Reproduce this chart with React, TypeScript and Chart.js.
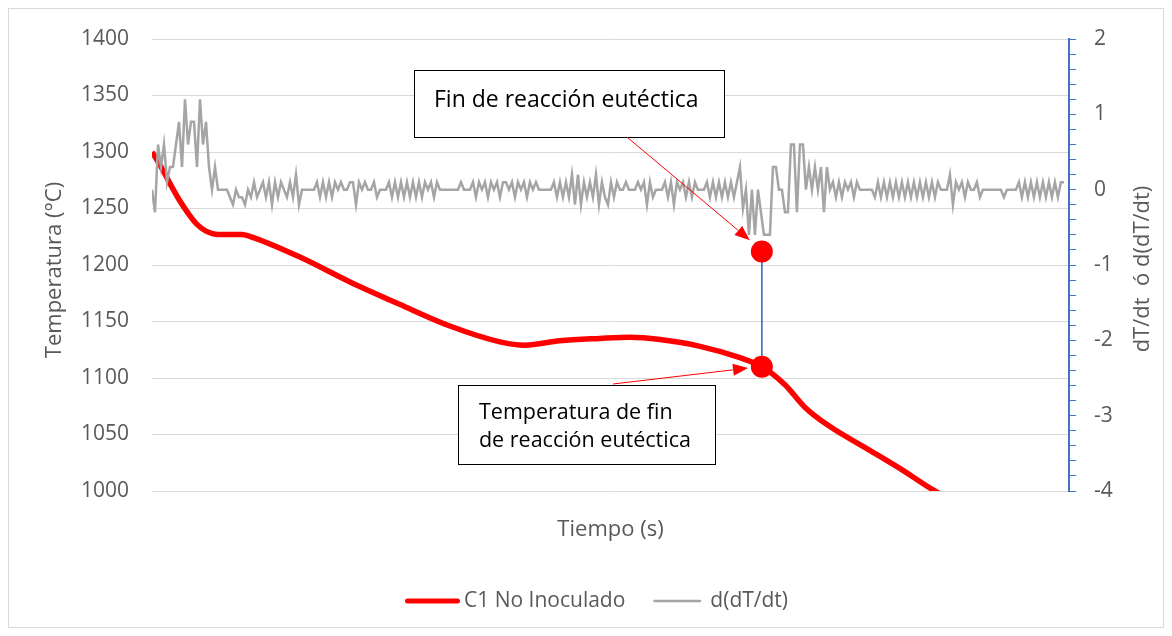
import { useEffect, useRef } from 'react';
import { Chart, registerables } from 'chart.js';

Chart.register(...registerables);

const W = 1156;
const H = 620;
const FONT = '"Open Sans", sans-serif';
const AXIS_TEXT = '#595959';
const RED = '#FF0000';
const GRAY = '#A5A5A5';
const BLUE = '#4472C4';

const seriesNames = ['C1 No Inoculado', 'd(dT/dt)'];

// Temperature curve (time in s, temperature in °C)
const redTime = [0, 3, 6, 9, 12, 15, 18, 22, 30, 34, 49.3, 66, 82.7, 99.3, 116, 124.3, 136, 149.3, 159.3, 169.3, 182.7, 196, 203.3, 211, 217.7, 226, 239.3, 249.3, 261, 270];
const redTemp = [1300, 1287, 1272, 1258, 1246, 1236, 1230, 1227, 1227, 1224, 1207, 1185, 1165, 1146, 1132, 1129, 1133, 1135, 1136, 1134, 1128, 1118, 1110, 1094, 1074, 1057, 1036, 1020, 1000, 988];

// d(dT/dt), one sample per second
const derivValues = [
  0, -0.3, 0.6, 0.3, 0.6, 0.1, 0.3, 0.3, 0.6, 0.9,
  0.3, 1.2, 0.6, 0.9, 0.9, 0.3, 1.2, 0.6, 0.9, 0.3,
  0, 0.3, 0, 0, 0, 0, -0.1, -0.2, 0, -0.1,
  -0.1, -0.2, 0, -0.1, 0.1, -0.1, 0, 0.1, -0.1, 0.1,
  -0.2, 0.1, -0.1, 0.1, 0, -0.1, 0.1, -0.1, 0.2, -0.2,
  0, 0, 0, 0, 0, 0.1, -0.1, 0.1, -0.1, 0.1,
  -0.1, 0.1, 0, 0.1, 0, 0, 0.1, 0.1, -0.2, 0.1,
  0, 0.1, 0, 0, 0.1, -0.1, 0, 0, 0, 0.1,
  -0.1, 0.1, -0.1, 0.1, -0.1, 0.1, -0.1, 0.1, -0.1, 0.1,
  -0.1, 0.1, 0, 0.1, -0.1, 0.1, 0, 0, 0, 0,
  0, 0, 0, 0.1, 0, 0, 0, 0.1, -0.1, 0.1,
  0, 0.1, -0.1, 0.1, 0, 0.1, -0.1, 0.1, 0.1, 0,
  0.1, -0.1, 0.1, 0, 0.1, -0.1, 0.1, 0, 0.1, 0,
  0, 0, 0, 0, 0.1, -0.1, 0.1, -0.1, 0.1, -0.1,
  0.2, -0.2, 0.2, -0.2, 0.1, -0.1, 0.1, -0.1, 0.2, -0.2,
  0.1, -0.1, -0.2, 0.1, -0.1, 0.1, 0, 0, 0.1, 0,
  0, 0, 0.1, 0, 0.1, -0.2, 0.1, -0.1, 0, 0,
  0, 0.1, -0.1, 0.1, -0.2, 0.1, 0, 0.1, -0.1, 0.1,
  -0.1, 0.1, 0, 0, 0, 0.1, -0.1, 0.1, -0.1, 0.1,
  -0.1, 0.1, -0.1, 0.1, -0.1, 0.1, 0.3, -0.25, 0, -0.6,
  0, -0.6, 0, -0.3, -0.6, -0.6, -0.6, 0.3, 0.3, 0,
  0, -0.3, -0.3, 0.6, 0.6, -0.3, 0.6, 0.6, 0, 0.3,
  0, 0.3, 0, 0.3, -0.3, 0.3, 0, 0.1, -0.1, 0.1,
  -0.1, 0.1, 0, 0.1, -0.1, 0.1, 0, 0, 0, 0,
  0, -0.1, 0.1, -0.1, 0.1, -0.1, 0.1, -0.1, 0.1, -0.1,
  0.1, -0.1, 0.1, -0.1, 0.1, -0.1, 0.1, -0.1, 0.1, -0.1,
  0.1, -0.1, 0.1, 0, 0, 0, 0.2, -0.2, 0.1, 0,
  0.1, -0.1, 0.1, 0, 0, 0.1, -0.1, 0, 0, 0,
  0, 0, 0, 0, -0.1, 0, 0, 0, 0, 0.1,
  -0.1, 0.1, -0.1, 0.1, -0.1, 0.1, -0.1, 0.1, -0.1, 0.1,
  -0.1, 0.1, -0.1, 0.1, 0.1,
];

// End of eutectic reaction markers
const eventTime = [203.3, 203.3];
const eventTemp = [1212, 1110];

const tempAxis = { min: 1000, max: 1400, step: 50 };
const derivAxis = { min: -4, max: 2, step: 0.2 };
const timeAxis = { min: 0, max: 305.7 };

const titles = { x: 'Tiempo (s)', y: 'Temperatura (°C)', y2: 'dT/dt  ó d(dT/dt)' };

// Callouts in data units (time, temperature)
const notes = [
  { lines: ['Fin de reacción eutéctica'], size: 23, box: [87.3, 1372.6, 190.7, 1313.3], textX: 94, textY: [1346], arrow: [158.3, 1313.3, 199.3, 1222] },
  { lines: ['Temperatura de fin', 'de reacción eutéctica'], size: 21.5, box: [102, 1093.8, 187.7, 1023.9], textX: 109, textY: [1069, 1044], arrow: [153.7, 1094.7, 198.7, 1108.8] },
];

function drawArrow(ctx: CanvasRenderingContext2D, x1: number, y1: number, x2: number, y2: number) {
  const a = Math.atan2(y2 - y1, x2 - x1);
  const L = 15;
  const hw = 6;
  const bx = x2 - L * Math.cos(a);
  const by = y2 - L * Math.sin(a);
  ctx.beginPath();
  ctx.moveTo(x1, y1);
  ctx.lineTo(bx, by);
  ctx.stroke();
  ctx.beginPath();
  ctx.moveTo(x2, y2);
  ctx.lineTo(bx + hw * Math.sin(a), by - hw * Math.cos(a));
  ctx.lineTo(bx - hw * Math.sin(a), by + hw * Math.cos(a));
  ctx.closePath();
  ctx.fill();
}

const decorPlugin = {
  id: 'decor',
  beforeDraw(chart: any) {
    const { ctx, width, height } = chart;
    ctx.save();
    ctx.fillStyle = '#FFFFFF';
    ctx.fillRect(0, 0, width, height);
    ctx.strokeStyle = '#D9D9D9';
    ctx.lineWidth = 1;
    ctx.strokeRect(0.5, 0.5, width - 1, height - 1);
    ctx.restore();
  },
  afterDraw(chart: any) {
    const { ctx, chartArea: ca, scales } = chart;
    const xs = scales.x;
    const ys = scales.y;
    const cx = (ca.left + ca.right) / 2;
    const cy = (ca.top + ca.bottom) / 2;
    ctx.save();
    ctx.font = `22px ${FONT}`;
    ctx.fillStyle = AXIS_TEXT;
    ctx.textAlign = 'center';
    ctx.textBaseline = 'middle';
    ctx.fillText(titles.x, cx, ca.bottom + 39);
    ctx.save();
    ctx.translate(47, cy + 5);
    ctx.rotate(-Math.PI / 2);
    ctx.fillText(titles.y, 0, 0);
    ctx.restore();
    ctx.save();
    ctx.translate(1135, cy + 4);
    ctx.rotate(-Math.PI / 2);
    ctx.fillText(titles.y2, 0, 0);
    ctx.restore();

    // callouts
    for (const n of notes) {
      const l = Math.round(xs.getPixelForValue(n.box[0])) + 0.5;
      const t = Math.round(ys.getPixelForValue(n.box[1])) + 0.5;
      const r = Math.round(xs.getPixelForValue(n.box[2])) + 0.5;
      const b = Math.round(ys.getPixelForValue(n.box[3])) + 0.5;
      ctx.fillStyle = '#FFFFFF';
      ctx.fillRect(l, t, r - l, b - t);
      ctx.strokeStyle = '#000000';
      ctx.lineWidth = 1;
      ctx.strokeRect(l, t, r - l, b - t);
      ctx.fillStyle = '#000000';
      ctx.font = `${n.size}px ${FONT}`;
      ctx.textAlign = 'left';
      n.lines.forEach((s, i) => {
        ctx.fillText(s, xs.getPixelForValue(n.textX), ys.getPixelForValue(n.textY[i]));
      });
      ctx.strokeStyle = RED;
      ctx.fillStyle = RED;
      ctx.lineWidth = 1;
      drawArrow(ctx, xs.getPixelForValue(n.arrow[0]), ys.getPixelForValue(n.arrow[1]), xs.getPixelForValue(n.arrow[2]), ys.getPixelForValue(n.arrow[3]));
    }

    // legend
    ctx.font = `21px ${FONT}`;
    ctx.textAlign = 'left';
    ctx.fillStyle = AXIS_TEXT;
    const items = [
      { name: seriesNames[0], color: RED, width: 5, len: 55, gap: 4 },
      { name: seriesNames[1], color: GRAY, width: 2.5, len: 48, gap: 9 },
    ];
    const spacing = 28;
    const widths = items.map((it) => it.len + it.gap + ctx.measureText(it.name).width);
    const total = widths.reduce((a, v) => a + v, 0) + spacing;
    let x = cx - 14 - total / 2;
    const ly = 593;
    items.forEach((it, i) => {
      ctx.strokeStyle = it.color;
      ctx.lineWidth = it.width;
      ctx.lineCap = 'round';
      ctx.beginPath();
      ctx.moveTo(x + it.width / 2, ly);
      ctx.lineTo(x + it.len - it.width / 2, ly);
      ctx.stroke();
      ctx.fillStyle = AXIS_TEXT;
      ctx.fillText(it.name, x + it.len + it.gap, ly);
      x += widths[i] + spacing;
    });
    ctx.restore();
  },
};

export default function App() {
  const ref = useRef<HTMLCanvasElement | null>(null);

  useEffect(() => {
    if (!ref.current) return;
    const chart = new Chart(ref.current, {
      type: 'line',
      data: {
        datasets: [
          {
            label: seriesNames[0],
            data: redTime.map((t, i) => ({ x: t, y: redTemp[i] })),
            borderColor: RED,
            backgroundColor: RED,
            borderWidth: 5.5,
            pointRadius: 0,
            cubicInterpolationMode: 'monotone',
            yAxisID: 'y',
            order: 3,
          },
          {
            label: seriesNames[1],
            data: derivValues.map((v, i) => ({ x: i, y: v })),
            borderColor: GRAY,
            backgroundColor: GRAY,
            borderWidth: 2.5,
            pointRadius: 0,
            tension: 0,
            yAxisID: 'y2',
            order: 2,
          },
          {
            label: 'marker',
            data: eventTime.map((t, i) => ({ x: t, y: eventTemp[i] })),
            borderColor: BLUE,
            borderWidth: 1,
            pointRadius: 11,
            pointBackgroundColor: RED,
            pointBorderColor: RED,
            pointBorderWidth: 0,
            yAxisID: 'y',
            order: 1,
          },
        ],
      },
      options: {
        animation: false,
        responsive: false,
        devicePixelRatio: 1,
        events: [],
        layout: { padding: { top: 31, left: 0, right: 0, bottom: 0 } },
        plugins: {
          legend: { display: false },
          tooltip: { enabled: false },
          title: { display: false },
        },
        scales: {
          x: {
            type: 'linear',
            min: timeAxis.min,
            max: timeAxis.max,
            ticks: { display: false },
            grid: { display: false },
            border: { display: false },
            afterFit: (s: any) => { s.height = 137; },
          },
          y: {
            type: 'linear',
            position: 'left',
            min: tempAxis.min,
            max: tempAxis.max,
            ticks: {
              stepSize: tempAxis.step,
              color: AXIS_TEXT,
              padding: 0,
              font: { family: FONT, size: 21 },
              callback: (v: any) => String(v),
            },
            grid: { color: '#D9D9D9', lineWidth: 1, drawTicks: true, tickLength: 23, tickColor: 'rgba(0,0,0,0)' },
            border: { display: false },
            afterFit: (s: any) => { s.width = 144; },
          },
          y2: {
            type: 'linear',
            position: 'right',
            min: derivAxis.min,
            max: derivAxis.max,
            ticks: {
              stepSize: derivAxis.step,
              autoSkip: false,
              color: AXIS_TEXT,
              padding: 18,
              font: { family: FONT, size: 21 },
              callback: (v: any) => (Math.abs(v - Math.round(v)) < 1e-6 ? String(Math.round(v)) : ''),
            },
            grid: { display: true, drawOnChartArea: false, drawTicks: true, tickLength: 7, color: BLUE, lineWidth: 1 },
            border: { display: true, color: BLUE, width: 2 },
            afterFit: (s: any) => { s.width = 95; },
          },
        },
      },
      plugins: [decorPlugin],
    });
    return () => chart.destroy();
  }, []);

  return (
    <div style={{ width: W, height: H }}>
      <canvas ref={ref} width={W} height={H} style={{ display: 'block', width: W, height: H }} />
    </div>
  );
}
